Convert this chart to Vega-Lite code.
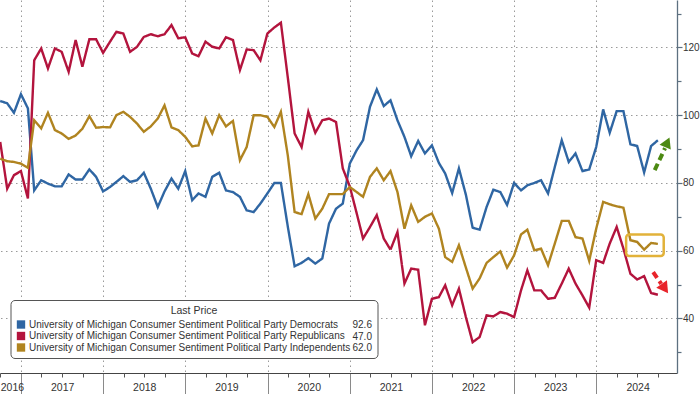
{
  "$schema": "https://vega.github.io/schema/vega-lite/v6.json",
  "width": 677,
  "height": 373,
  "autosize": {"type": "none"},
  "padding": {"left": 0, "top": 0, "right": 23, "bottom": 21},
  "background": "white",
  "datasets": {
    "series": [
      {"date": "2016-09-30", "Democrats": 104.2, "Republicans": 92.1, "Independents": 87.2},
      {"date": "2016-10-31", "Democrats": 103.5, "Republicans": 78.3, "Independents": 86.4},
      {"date": "2016-11-30", "Democrats": 100.7, "Republicans": 82.3, "Independents": 86.2},
      {"date": "2016-12-31", "Democrats": 106.2, "Republicans": 83.5, "Independents": 85.7},
      {"date": "2017-01-31", "Democrats": 102.0, "Republicans": 75.4, "Independents": 84.5},
      {"date": "2017-02-28", "Democrats": 77.8, "Republicans": 116.2, "Independents": 98.5},
      {"date": "2017-03-31", "Democrats": 80.8, "Republicans": 119.7, "Independents": 96.1},
      {"date": "2017-04-30", "Democrats": 79.8, "Republicans": 113.8, "Independents": 100.7},
      {"date": "2017-05-31", "Democrats": 79.0, "Republicans": 119.7, "Independents": 95.6},
      {"date": "2017-06-30", "Democrats": 79.0, "Republicans": 118.7, "Independents": 94.6},
      {"date": "2017-07-31", "Democrats": 82.5, "Republicans": 112.8, "Independents": 93.0},
      {"date": "2017-08-31", "Democrats": 81.0, "Republicans": 122.2, "Independents": 94.0},
      {"date": "2017-09-30", "Democrats": 81.0, "Republicans": 114.3, "Independents": 96.0},
      {"date": "2017-10-31", "Democrats": 84.0, "Republicans": 122.4, "Independents": 99.7},
      {"date": "2017-11-30", "Democrats": 81.8, "Republicans": 122.4, "Independents": 96.3},
      {"date": "2017-12-31", "Democrats": 77.5, "Republicans": 118.4, "Independents": 96.5},
      {"date": "2018-01-31", "Democrats": 78.8, "Republicans": 121.7, "Independents": 96.4},
      {"date": "2018-02-28", "Democrats": 80.3, "Republicans": 124.6, "Independents": 100.0},
      {"date": "2018-03-31", "Democrats": 82.0, "Republicans": 124.1, "Independents": 101.0},
      {"date": "2018-04-30", "Democrats": 80.3, "Republicans": 118.7, "Independents": 99.5},
      {"date": "2018-05-31", "Democrats": 80.8, "Republicans": 120.2, "Independents": 97.5},
      {"date": "2018-06-30", "Democrats": 83.0, "Republicans": 123.1, "Independents": 95.1},
      {"date": "2018-07-31", "Democrats": 78.3, "Republicans": 123.9, "Independents": 96.7},
      {"date": "2018-08-31", "Democrats": 72.9, "Republicans": 123.3, "Independents": 99.0},
      {"date": "2018-09-30", "Democrats": 77.5, "Republicans": 123.9, "Independents": 102.9},
      {"date": "2018-10-31", "Democrats": 81.3, "Republicans": 126.6, "Independents": 96.4},
      {"date": "2018-11-30", "Democrats": 78.3, "Republicans": 122.7, "Independents": 95.6},
      {"date": "2018-12-31", "Democrats": 83.5, "Republicans": 123.0, "Independents": 93.6},
      {"date": "2019-01-31", "Democrats": 74.9, "Republicans": 118.2, "Independents": 90.8},
      {"date": "2019-02-28", "Democrats": 76.9, "Republicans": 117.4, "Independents": 91.1},
      {"date": "2019-03-31", "Democrats": 75.9, "Republicans": 121.7, "Independents": 99.0},
      {"date": "2019-04-30", "Democrats": 81.8, "Republicans": 120.2, "Independents": 94.6},
      {"date": "2019-05-31", "Democrats": 83.0, "Republicans": 119.7, "Independents": 100.0},
      {"date": "2019-06-30", "Democrats": 77.8, "Republicans": 123.0, "Independents": 96.7},
      {"date": "2019-07-31", "Democrats": 77.3, "Republicans": 122.2, "Independents": 98.3},
      {"date": "2019-08-31", "Democrats": 75.9, "Republicans": 113.3, "Independents": 86.7},
      {"date": "2019-09-30", "Democrats": 71.9, "Republicans": 119.4, "Independents": 90.6},
      {"date": "2019-10-31", "Democrats": 71.4, "Republicans": 119.2, "Independents": 100.0},
      {"date": "2019-11-30", "Democrats": 73.9, "Republicans": 116.2, "Independents": 100.0},
      {"date": "2019-12-31", "Democrats": 76.9, "Republicans": 124.1, "Independents": 99.5},
      {"date": "2020-01-31", "Democrats": 80.0, "Republicans": 125.9, "Independents": 96.5},
      {"date": "2020-02-29", "Democrats": 80.0, "Republicans": 127.3, "Independents": 101.0},
      {"date": "2020-03-31", "Democrats": 67.0, "Republicans": 111.0, "Independents": 88.0},
      {"date": "2020-04-30", "Democrats": 55.4, "Republicans": 94.6, "Independents": 71.4},
      {"date": "2020-05-31", "Democrats": 56.4, "Republicans": 90.6, "Independents": 70.8},
      {"date": "2020-06-30", "Democrats": 57.8, "Republicans": 101.0, "Independents": 76.7},
      {"date": "2020-07-31", "Democrats": 56.2, "Republicans": 94.8, "Independents": 69.5},
      {"date": "2020-08-31", "Democrats": 57.7, "Republicans": 98.5, "Independents": 72.4},
      {"date": "2020-09-30", "Democrats": 68.0, "Republicans": 99.0, "Independents": 76.7},
      {"date": "2020-10-31", "Democrats": 72.4, "Republicans": 98.0, "Independents": 76.7},
      {"date": "2020-11-30", "Democrats": 73.9, "Republicans": 84.3, "Independents": 76.7},
      {"date": "2020-12-31", "Democrats": 85.7, "Republicans": 79.0, "Independents": 78.8},
      {"date": "2021-01-31", "Democrats": 89.7, "Republicans": 71.0, "Independents": 77.3},
      {"date": "2021-02-28", "Democrats": 92.6, "Republicans": 63.6, "Independents": 75.9},
      {"date": "2021-03-31", "Democrats": 102.5, "Republicans": 67.0, "Independents": 81.8},
      {"date": "2021-04-30", "Democrats": 107.6, "Republicans": 70.5, "Independents": 84.3},
      {"date": "2021-05-31", "Democrats": 102.7, "Republicans": 63.6, "Independents": 80.8},
      {"date": "2021-06-30", "Democrats": 104.4, "Republicans": 60.3, "Independents": 83.5},
      {"date": "2021-07-31", "Democrats": 98.5, "Republicans": 65.5, "Independents": 77.3},
      {"date": "2021-08-31", "Democrats": 93.6, "Republicans": 50.3, "Independents": 66.5},
      {"date": "2021-09-30", "Democrats": 87.9, "Republicans": 54.7, "Independents": 73.4},
      {"date": "2021-10-31", "Democrats": 92.4, "Republicans": 54.4, "Independents": 68.5},
      {"date": "2021-11-30", "Democrats": 88.7, "Republicans": 38.0, "Independents": 70.0},
      {"date": "2021-12-31", "Democrats": 91.1, "Republicans": 45.8, "Independents": 71.0},
      {"date": "2022-01-31", "Democrats": 85.9, "Republicans": 46.3, "Independents": 66.5},
      {"date": "2022-02-28", "Democrats": 82.8, "Republicans": 49.8, "Independents": 58.1},
      {"date": "2022-03-31", "Democrats": 77.0, "Republicans": 43.9, "Independents": 56.7},
      {"date": "2022-04-30", "Democrats": 84.3, "Republicans": 48.8, "Independents": 61.6},
      {"date": "2022-05-31", "Democrats": 76.5, "Republicans": 40.4, "Independents": 55.0},
      {"date": "2022-06-30", "Democrats": 66.8, "Republicans": 33.0, "Independents": 48.8},
      {"date": "2022-07-31", "Democrats": 66.2, "Republicans": 34.5, "Independents": 51.8},
      {"date": "2022-08-31", "Democrats": 72.9, "Republicans": 40.9, "Independents": 56.4},
      {"date": "2022-09-30", "Democrats": 78.0, "Republicans": 40.6, "Independents": 58.1},
      {"date": "2022-10-31", "Democrats": 77.3, "Republicans": 41.9, "Independents": 59.8},
      {"date": "2022-11-30", "Democrats": 73.5, "Republicans": 41.4, "Independents": 55.0},
      {"date": "2022-12-31", "Democrats": 80.0, "Republicans": 40.4, "Independents": 58.6},
      {"date": "2023-01-31", "Democrats": 77.8, "Republicans": 48.3, "Independents": 64.8},
      {"date": "2023-02-28", "Democrats": 79.3, "Republicans": 54.2, "Independents": 66.2},
      {"date": "2023-03-31", "Democrats": 80.0, "Republicans": 48.3, "Independents": 60.1},
      {"date": "2023-04-30", "Democrats": 80.8, "Republicans": 48.3, "Independents": 60.6},
      {"date": "2023-05-31", "Democrats": 76.9, "Republicans": 45.8, "Independents": 55.7},
      {"date": "2023-06-30", "Democrats": 84.7, "Republicans": 46.1, "Independents": 62.1},
      {"date": "2023-07-31", "Democrats": 92.6, "Republicans": 50.3, "Independents": 68.8},
      {"date": "2023-08-31", "Democrats": 86.2, "Republicans": 54.7, "Independents": 68.8},
      {"date": "2023-09-30", "Democrats": 88.7, "Republicans": 50.3, "Independents": 64.0},
      {"date": "2023-10-31", "Democrats": 83.5, "Republicans": 46.8, "Independents": 63.6},
      {"date": "2023-11-30", "Democrats": 84.0, "Republicans": 43.2, "Independents": 57.0},
      {"date": "2023-12-31", "Democrats": 90.6, "Republicans": 57.2, "Independents": 66.5},
      {"date": "2024-01-31", "Democrats": 101.7, "Republicans": 56.4, "Independents": 74.4},
      {"date": "2024-02-29", "Democrats": 94.8, "Republicans": 62.1, "Independents": 73.7},
      {"date": "2024-03-31", "Democrats": 101.2, "Republicans": 67.0, "Independents": 73.1},
      {"date": "2024-04-30", "Democrats": 101.2, "Republicans": 60.6, "Independents": 72.7},
      {"date": "2024-05-31", "Democrats": 91.4, "Republicans": 53.2, "Independents": 63.1},
      {"date": "2024-06-30", "Democrats": 90.9, "Republicans": 51.5, "Independents": 62.6},
      {"date": "2024-07-31", "Democrats": 83.1, "Republicans": 52.5, "Independents": 60.3},
      {"date": "2024-08-31", "Democrats": 90.9, "Republicans": 47.5, "Independents": 62.3},
      {"date": "2024-09-30", "Democrats": 92.6, "Republicans": 47.0, "Independents": 62.0}
    ],
    "last": [
      {"party": "Democrats", "last": "92.6"},
      {"party": "Republicans", "last": "47.0"},
      {"party": "Independents", "last": "62.0"}
    ]
  },
  "resolve": {"axis": {"x": "independent", "y": "independent"}},
  "layer": [
    {
      "data": {"name": "series"},
      "transform": [
        {"fold": ["Democrats", "Republicans", "Independents"], "as": ["party", "value"]},
        {"lookup": "party", "from": {"data": {"name": "last"}, "key": "party", "fields": ["last"]}}
      ],
      "mark": {"type": "line", "strokeWidth": 2.4, "clip": true},
      "encoding": {
        "x": {
          "field": "date", "type": "temporal",
          "scale": {"type": "utc", "domain": [{"year": 2016, "month": 9, "date": 29, "utc": true}, {"year": 2024, "month": 12, "date": 24, "utc": true}]},
          "axis": {
            "orient": "bottom", "title": null, "labels": false, "domain": false,
            "values": [
              {"year": 2017, "month": 1, "date": 1, "utc": true},
              {"year": 2018, "month": 1, "date": 1, "utc": true},
              {"year": 2019, "month": 1, "date": 1, "utc": true},
              {"year": 2020, "month": 1, "date": 1, "utc": true},
              {"year": 2021, "month": 1, "date": 1, "utc": true},
              {"year": 2022, "month": 1, "date": 1, "utc": true},
              {"year": 2023, "month": 1, "date": 1, "utc": true},
              {"year": 2024, "month": 1, "date": 1, "utc": true}
            ],
            "ticks": true, "tickSize": 21, "tickColor": "#8a8a8a", "tickWidth": 1,
            "grid": true, "gridColor": "#9a9a9a", "gridDash": [1.5, 3.5], "gridWidth": 1
          }
        },
        "y": {
          "field": "value", "type": "quantitative",
          "scale": {"domain": [23.9, 134], "nice": false, "zero": false},
          "axis": {
            "orient": "right", "title": null, "values": [40, 60, 80, 100, 120],
            "grid": true, "gridColor": "#9a9a9a", "gridDash": [1.5, 3.5], "gridWidth": 1,
            "ticks": true, "tickSize": 5, "tickColor": "#5d7080", "tickWidth": 1.2,
            "domain": true, "domainColor": "#5d7080", "domainWidth": 1.3,
            "labelPadding": 0.5, "labelFontSize": 10, "labelColor": "#333333"
          }
        },
        "color": {
          "field": "party", "type": "nominal",
          "scale": {"domain": ["Democrats", "Republicans", "Independents"], "range": ["#2f66a3", "#b3143d", "#b08420"]},
          "legend": {
            "orient": "none", "legendX": 10.5, "legendY": 300, "direction": "vertical",
            "title": "Last Price", "titleAnchor": "middle", "titleFontSize": 10.5, "titleFontWeight": "normal",
            "titleColor": "#333333", "titlePadding": 3.5,
            "fillColor": "white", "strokeColor": "#555555", "cornerRadius": 4, "padding": 5.5,
            "symbolType": "square", "symbolSize": 70, "symbolStrokeWidth": 0,
            "labelExpr": "'University of Michigan Consumer Sentiment Political Party ' + datum.label + '\u00a0\u00a0\u00a0\u00a0\u00a0\u00a0\u00a0\u2009\u200b'",
            "labelFontSize": 10, "labelColor": "#333333", "labelOffset": 3, "labelLimit": 600,
            "rowPadding": 1.5, "zindex": 1,
            "encode": {"symbols": {"update": {"fill": {"scale": "color", "field": "value"}, "stroke": {"value": "transparent"}}}}
          }
        },
        "strokeDash": {
          "field": "last", "type": "nominal",
          "scale": {"domain": ["92.6", "47.0", "62.0"], "range": [[1, 0], [1, 0], [1, 0]]},
          "legend": {
            "orient": "none", "legendX": 342.5, "legendY": 320, "title": null, "padding": 0,
            "symbolSize": 0, "symbolStrokeWidth": 0, "symbolOpacity": 0, "labelOffset": 0,
            "labelFontSize": 10, "labelColor": "#333333", "rowPadding": 1.5, "zindex": 2
          }
        },
        "detail": {"field": "party"}
      }
    },
    {
      "data": {"values": [{"date": "2024-05-12", "date2": "2024-10-26", "value": 64.8, "value2": 58.4}]},
      "mark": {"type": "rect", "fill": "transparent", "stroke": "#e2b23a", "strokeWidth": 2.5, "cornerRadius": 3},
      "encoding": {
        "x": {
          "field": "date", "type": "temporal",
          "scale": {"type": "utc", "domain": [{"year": 2016, "month": 9, "date": 29, "utc": true}, {"year": 2024, "month": 12, "date": 24, "utc": true}]},
          "axis": {
            "orient": "bottom", "title": null, "ticks": false, "tickSize": 0, "grid": false,
            "domain": true, "domainColor": "#444444", "domainWidth": 1,
            "values": [
              {"year": 2016, "month": 11, "date": 21, "utc": true},
              {"year": 2017, "month": 7, "date": 2, "utc": true},
              {"year": 2018, "month": 7, "date": 2, "utc": true},
              {"year": 2019, "month": 7, "date": 2, "utc": true},
              {"year": 2020, "month": 7, "date": 2, "utc": true},
              {"year": 2021, "month": 7, "date": 2, "utc": true},
              {"year": 2022, "month": 7, "date": 2, "utc": true},
              {"year": 2023, "month": 7, "date": 2, "utc": true},
              {"year": 2024, "month": 7, "date": 2, "utc": true}
            ],
            "labelExpr": "utcFormat(datum.value, '%Y')", "labelPadding": 9,
            "labelFontSize": 10.5, "labelColor": "#333333", "labelOverlap": false
          }
        },
        "x2": {"field": "date2"},
        "y": {
          "field": "value", "type": "quantitative",
          "scale": {"domain": [23.9, 134], "nice": false, "zero": false},
          "axis": {
            "orient": "right", "title": null, "values": [30, 50, 70, 90, 110, 130],
            "labels": false, "grid": false, "domain": false,
            "ticks": true, "tickSize": 4, "tickColor": "#5d7080", "tickWidth": 1.2
          }
        },
        "y2": {"field": "value2"}
      }
    },
    {
      "data": {"values": [{"date": "2024-09-16", "date2": "2024-11-01", "value": 83.8, "value2": 90.3}]},
      "mark": {"type": "rule", "strokeWidth": 4, "strokeDash": [7, 4], "strokeCap": "butt", "color": "#4c8a12"},
      "encoding": {
        "x": {
          "field": "date", "type": "temporal",
          "scale": {"type": "utc", "domain": [{"year": 2016, "month": 9, "date": 29, "utc": true}, {"year": 2024, "month": 12, "date": 24, "utc": true}]},
          "axis": {
            "orient": "bottom", "title": null, "labels": false, "grid": false, "domain": false,
            "ticks": true, "tickSize": 4, "tickColor": "#555555", "tickWidth": 1,
            "values": [
              {"year": 2016, "month": 10, "date": 1, "utc": true},
              {"year": 2017, "month": 4, "date": 1, "utc": true}, {"year": 2017, "month": 7, "date": 1, "utc": true}, {"year": 2017, "month": 10, "date": 1, "utc": true},
              {"year": 2018, "month": 4, "date": 1, "utc": true}, {"year": 2018, "month": 7, "date": 1, "utc": true}, {"year": 2018, "month": 10, "date": 1, "utc": true},
              {"year": 2019, "month": 4, "date": 1, "utc": true}, {"year": 2019, "month": 7, "date": 1, "utc": true}, {"year": 2019, "month": 10, "date": 1, "utc": true},
              {"year": 2020, "month": 4, "date": 1, "utc": true}, {"year": 2020, "month": 7, "date": 1, "utc": true}, {"year": 2020, "month": 10, "date": 1, "utc": true},
              {"year": 2021, "month": 4, "date": 1, "utc": true}, {"year": 2021, "month": 7, "date": 1, "utc": true}, {"year": 2021, "month": 10, "date": 1, "utc": true},
              {"year": 2022, "month": 4, "date": 1, "utc": true}, {"year": 2022, "month": 7, "date": 1, "utc": true}, {"year": 2022, "month": 10, "date": 1, "utc": true},
              {"year": 2023, "month": 4, "date": 1, "utc": true}, {"year": 2023, "month": 7, "date": 1, "utc": true}, {"year": 2023, "month": 10, "date": 1, "utc": true},
              {"year": 2024, "month": 4, "date": 1, "utc": true}, {"year": 2024, "month": 7, "date": 1, "utc": true}, {"year": 2024, "month": 10, "date": 1, "utc": true}
            ]
          }
        },
        "x2": {"field": "date2"},
        "y": {"field": "value", "type": "quantitative", "scale": {"domain": [23.9, 134], "nice": false, "zero": false}, "axis": null},
        "y2": {"field": "value2"}
      }
    },
    {
      "data": {"values": [{"date": "2024-09-09", "date2": "2024-10-15", "value": 53.7, "value2": 50.2}]},
      "mark": {"type": "rule", "strokeWidth": 4, "strokeDash": [7, 4], "strokeCap": "butt", "color": "#e8242b"},
      "encoding": {
        "x": {"field": "date", "type": "temporal", "scale": {"type": "utc", "domain": [{"year": 2016, "month": 9, "date": 29, "utc": true}, {"year": 2024, "month": 12, "date": 24, "utc": true}]}, "axis": null},
        "x2": {"field": "date2"},
        "y": {"field": "value", "type": "quantitative", "scale": {"domain": [23.9, 134], "nice": false, "zero": false}, "axis": null},
        "y2": {"field": "value2"}
      }
    },
    {
      "data": {"values": [{"date": "2024-11-11", "value": 92.0}]},
      "mark": {"type": "point", "shape": "triangle-up", "filled": true, "size": 150, "angle": 24, "color": "#4c8a12", "opacity": 1},
      "encoding": {
        "x": {"field": "date", "type": "temporal", "scale": {"type": "utc", "domain": [{"year": 2016, "month": 9, "date": 29, "utc": true}, {"year": 2024, "month": 12, "date": 24, "utc": true}]}, "axis": null},
        "y": {"field": "value", "type": "quantitative", "scale": {"domain": [23.9, 134], "nice": false, "zero": false}, "axis": null}
      }
    },
    {
      "data": {"values": [{"date": "2024-10-31", "value": 48.8}]},
      "mark": {"type": "point", "shape": "triangle-up", "filled": true, "size": 170, "angle": 145, "color": "#e8242b", "opacity": 1},
      "encoding": {
        "x": {"field": "date", "type": "temporal", "scale": {"type": "utc", "domain": [{"year": 2016, "month": 9, "date": 29, "utc": true}, {"year": 2024, "month": 12, "date": 24, "utc": true}]}, "axis": null},
        "y": {"field": "value", "type": "quantitative", "scale": {"domain": [23.9, 134], "nice": false, "zero": false}, "axis": null}
      }
    }
  ],
  "config": {
    "view": {"stroke": null},
    "font": "Liberation Sans, sans-serif",
    "axis": {"labelFont": "Liberation Sans, sans-serif"},
    "legend": {"labelFont": "Liberation Sans, sans-serif", "titleFont": "Liberation Sans, sans-serif"}
  }
}
